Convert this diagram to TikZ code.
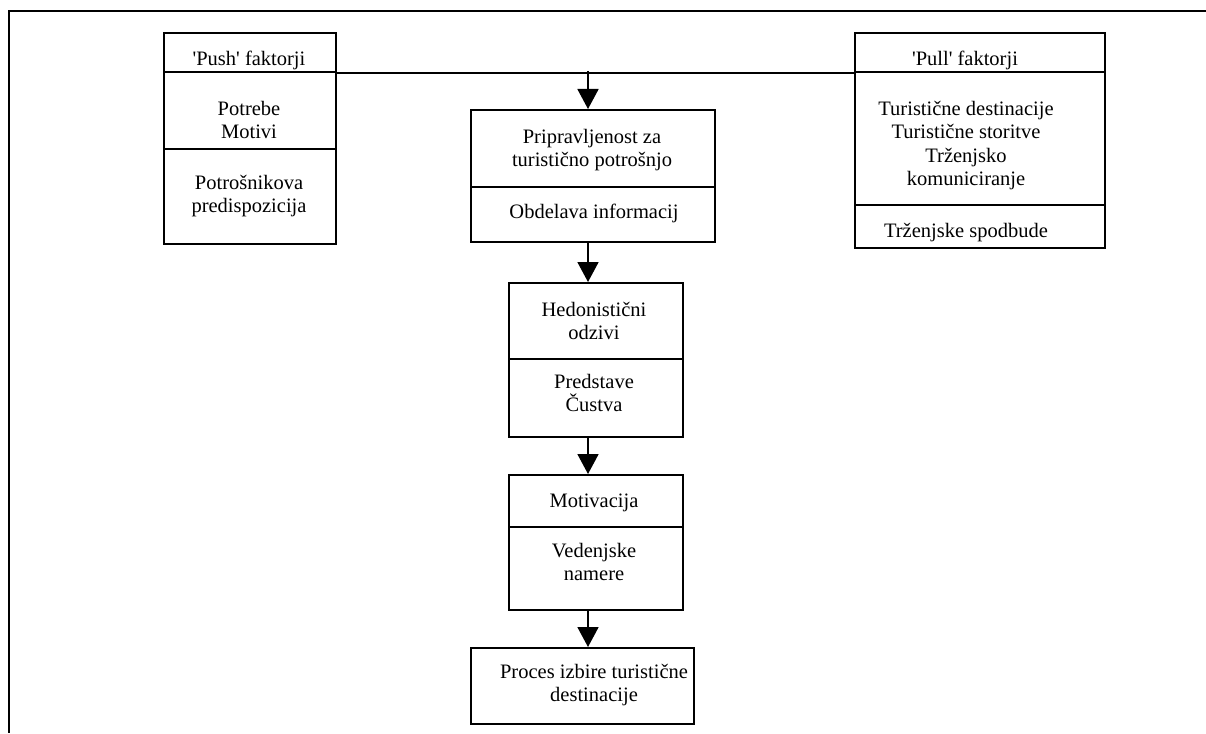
\documentclass[tikz,border=0pt]{standalone}
\usepackage{fontspec}
\setmainfont{Liberation Serif}
\usetikzlibrary{arrows.meta}

\begin{document}
\begin{tikzpicture}[x=1pt,y=-1pt,line width=1.8pt,
  every node/.style={font=\fontsize{20.5}{23.6}\selectfont},
  part/.style={draw, inner sep=0pt, anchor=north west},
  txt/.style={align=center, anchor=north, inner sep=0pt},
  arr/.style={-{Triangle[width=21pt,length=20pt]}}]
\useasboundingbox (0,0) rectangle (1206,733);
\draw[line width=1.5pt] (1206,11) -- (9,11) -- (9,733);

% push factors
\node[part, minimum width=172pt, minimum height=39pt] (pushhead) at (163,32) {};
\node[part, minimum width=172pt, minimum height=77pt] (pushmid) at (163,71) {};
\node[part, minimum width=172pt, minimum height=95pt] (pushbot) at (163,148) {};
\node[txt] (pushtitle) at (249,50) {\textquotesingle Push\textquotesingle{} faktorji};
\node[txt] (needs) at (249,100) {Potrebe\\Motivi};
\node[txt] (predisp) at (249,174) {Potrošnikova\\predispozicija};

% pull factors
\node[part, minimum width=250pt, minimum height=39pt] (pullhead) at (854,32) {};
\node[part, minimum width=250pt, minimum height=133pt] (pullmid) at (854,71) {};
\node[part, minimum width=250pt, minimum height=43pt] (pullbot) at (854,204) {};
\node[txt] (pulltitle) at (965,50) {\textquotesingle Pull\textquotesingle{} faktorji};
\node[txt] (dest) at (966,100) {Turistične destinacije\\Turistične storitve\\Trženjsko\\komuniciranje};
\node[txt] (stimuli) at (966,222) {Trženjske spodbude};

% middle chain
\node[part, minimum width=244pt, minimum height=77pt] (ready) at (470,109) {};
\node[part, minimum width=244pt, minimum height=55pt] (info) at (470,186) {};
\node[txt] (readytxt) at (592,128) {Pripravljenost za\\turistično potrošnjo};
\node[txt] (infotxt) at (594,203) {Obdelava informacij};

\node[part, minimum width=174pt, minimum height=76pt] (hedon) at (508,282) {};
\node[part, minimum width=174pt, minimum height=78pt] (images) at (508,358) {};
\node[txt] (hedontxt) at (594,301) {Hedonistični\\odzivi};
\node[txt] (imagestxt) at (594,373) {Predstave\\Čustva};

\node[part, minimum width=174pt, minimum height=52pt] (motiv) at (508,474) {};
\node[part, minimum width=174pt, minimum height=83pt] (intent) at (508,526) {};
\node[txt] (motivtxt) at (594,493) {Motivacija};
\node[txt] (intenttxt) at (594,542) {Vedenjske\\namere};

\node[part, minimum width=223pt, minimum height=76pt] (choice) at (470,647) {};
\node[txt] (choicetxt) at (594,663) {Proces izbire turistične\\destinacije};

% connectors
\draw (pushhead.south east) -- (pullhead.south west);
\coordinate (split) at (588,71);
\draw[arr] (split) -- (split |- ready.north);
\draw[arr] (info.south -| split) -- (hedon.north -| split);
\draw[arr] (images.south -| split) -- (motiv.north -| split);
\draw[arr] (intent.south -| split) -- (choice.north -| split);
\end{tikzpicture}
\end{document}
